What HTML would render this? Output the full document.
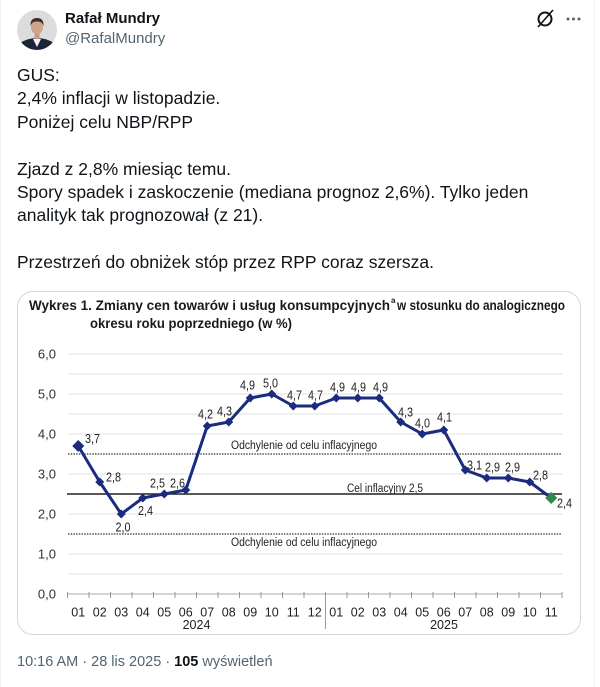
<!DOCTYPE html>
<html>
<head>
<meta charset="utf-8">
<style>
html,body{margin:0;padding:0;background:#fff;}
body{width:600px;height:687px;position:relative;overflow:hidden;font-family:"Liberation Sans",Arial,sans-serif;}
.vl{position:absolute;top:0;bottom:0;width:1px;background:#eff3f4;}
.name{position:absolute;left:65px;top:10px;font-size:15px;font-weight:bold;color:#0f1419;line-height:18px;}
.handle{position:absolute;left:65px;top:30px;font-size:15px;color:#536471;line-height:18px;}
.txt{position:absolute;left:17px;top:64px;font-size:17.5px;line-height:23.4px;color:#0f1419;white-space:pre;}
.ts{position:absolute;left:17px;top:653px;font-size:14.5px;line-height:18px;color:#536471;white-space:pre;}
.ts b{color:#0f1419;}
.card{position:absolute;left:17px;top:291px;width:564px;height:344px;border:1px solid #cfd9de;border-radius:16px;box-sizing:border-box;}
svg.chart{position:absolute;left:0;top:0;}
</style>
</head>
<body>
<div class="vl" style="left:0"></div>
<div class="vl" style="left:594px"></div>

<svg width="60" height="60" style="position:absolute;left:0;top:0">
  <defs><clipPath id="av"><circle cx="37" cy="30" r="20"/></clipPath></defs>
  <g clip-path="url(#av)">
    <rect x="17" y="10" width="40" height="40" fill="#dcdcdc"/>
    <path d="M17 50 L20 43 Q28 38 37 38 Q46 38 54 43 L57 50 Z" fill="#1e2438"/>
    <path d="M33 39 L37 47 L41 39 Z" fill="#f2f2f2"/>
    <rect x="34.5" y="33" width="5" height="6" fill="#c49a83"/>
    <ellipse cx="37" cy="27" rx="6" ry="7.5" fill="#cfa48c"/>
    <path d="M30.5 26 Q30 18 37 18 Q44 18 43.5 26 Q42 21 37 21.5 Q32 21 30.5 26 Z" fill="#3b2f29"/>
  </g>
</svg>

<div class="name">Rafał Mundry</div>
<div class="handle">@RafalMundry</div>

<svg width="60" height="30" style="position:absolute;left:530px;top:4px">
  <circle cx="15" cy="15" r="6.5" fill="none" stroke="#0f1419" stroke-width="2"/>
  <line x1="8" y1="23" x2="23" y2="6" stroke="#0f1419" stroke-width="1.6"/>
  <circle cx="38" cy="15" r="1.5" fill="#536471"/>
  <circle cx="43.5" cy="15" r="1.5" fill="#536471"/>
  <circle cx="49" cy="15" r="1.5" fill="#536471"/>
</svg>

<div class="txt">GUS:
2,4% inflacji w listopadzie.
Poniżej celu NBP/RPP

Zjazd z 2,8% miesiąc temu.
Spory spadek i zaskoczenie (mediana prognoz 2,6%). Tylko jeden
analityk tak prognozował (z 21).

Przestrzeń do obniżek stóp przez RPP coraz szersza.</div>

<div class="card"></div>

<svg class="chart" width="600" height="687" font-family="Liberation Sans, Arial, sans-serif">
  <!-- title -->
  <g font-weight="bold" font-size="14" fill="#1a1a1a">
    <text x="29" y="310" textLength="361" lengthAdjust="spacingAndGlyphs">Wykres 1. Zmiany cen towarów i usług konsumpcyjnych</text>
    <text x="391" y="303" font-size="8">a</text>
    <text x="397" y="310" textLength="168" lengthAdjust="spacingAndGlyphs">w stosunku do analogicznego</text>
    <text x="90" y="328" textLength="202" lengthAdjust="spacingAndGlyphs">okresu roku poprzedniego (w %)</text>
  </g>

  <!-- gridlines -->
  <g stroke="#e6e6e6" stroke-width="1.3">
    <line x1="68" y1="354" x2="562" y2="354"/>
    <line x1="68" y1="374" x2="562" y2="374"/>
    <line x1="68" y1="394" x2="562" y2="394"/>
    <line x1="68" y1="414" x2="562" y2="414"/>
    <line x1="68" y1="434" x2="562" y2="434"/>
    <line x1="68" y1="474" x2="562" y2="474"/>
    <line x1="68" y1="514" x2="562" y2="514"/>
    <line x1="68" y1="554" x2="562" y2="554"/>
    <line x1="68" y1="574" x2="562" y2="574"/>
  </g>
  <g stroke="#555" stroke-width="1.5" stroke-dasharray="1.5 1.2">
    <line x1="68" y1="454" x2="562" y2="454"/>
    <line x1="68" y1="534" x2="562" y2="534"/>
  </g>
  <line x1="67" y1="494" x2="562" y2="494" stroke="#222" stroke-width="1.5"/>

  <!-- axis -->
  <line x1="67.5" y1="594" x2="562.5" y2="594" stroke="#bbb" stroke-width="1.2"/>
  <g stroke="#999" stroke-width="1">
    <line x1="67.5" y1="592" x2="67.5" y2="598"/><line x1="89" y1="592" x2="89" y2="598"/><line x1="110.5" y1="592" x2="110.5" y2="598"/><line x1="132" y1="592" x2="132" y2="598"/><line x1="153.5" y1="592" x2="153.5" y2="598"/><line x1="175" y1="592" x2="175" y2="598"/><line x1="196.5" y1="592" x2="196.5" y2="598"/><line x1="218" y1="592" x2="218" y2="598"/><line x1="239.5" y1="592" x2="239.5" y2="598"/><line x1="261" y1="592" x2="261" y2="598"/><line x1="282.5" y1="592" x2="282.5" y2="598"/><line x1="304" y1="592" x2="304" y2="598"/><line x1="347" y1="592" x2="347" y2="598"/><line x1="368.5" y1="592" x2="368.5" y2="598"/><line x1="390" y1="592" x2="390" y2="598"/><line x1="411.5" y1="592" x2="411.5" y2="598"/><line x1="433" y1="592" x2="433" y2="598"/><line x1="454.5" y1="592" x2="454.5" y2="598"/><line x1="476" y1="592" x2="476" y2="598"/><line x1="497.5" y1="592" x2="497.5" y2="598"/><line x1="519" y1="592" x2="519" y2="598"/><line x1="540.5" y1="592" x2="540.5" y2="598"/><line x1="562" y1="592" x2="562" y2="598"/>
    <line x1="325.5" y1="592" x2="325.5" y2="629"/>
  </g>

  <!-- y labels -->
  <g font-size="13" fill="#333" text-anchor="end">
    <text x="56" y="358.5">6,0</text>
    <text x="56" y="398.5">5,0</text>
    <text x="56" y="438.5">4,0</text>
    <text x="56" y="478.5">3,0</text>
    <text x="56" y="518.5">2,0</text>
    <text x="56" y="558.5">1,0</text>
    <text x="56" y="598.5">0,0</text>
  </g>

  <!-- month labels -->
  <g font-size="12.5" fill="#222" text-anchor="middle">
    <text x="78.25" y="616.5">01</text><text x="99.75" y="616.5">02</text><text x="121.25" y="616.5">03</text><text x="142.75" y="616.5">04</text><text x="164.25" y="616.5">05</text><text x="185.75" y="616.5">06</text><text x="207.25" y="616.5">07</text><text x="228.75" y="616.5">08</text><text x="250.25" y="616.5">09</text><text x="271.75" y="616.5">10</text><text x="293.25" y="616.5">11</text><text x="314.75" y="616.5">12</text>
    <text x="336.25" y="616.5">01</text><text x="357.75" y="616.5">02</text><text x="379.25" y="616.5">03</text><text x="400.75" y="616.5">04</text><text x="422.25" y="616.5">05</text><text x="443.75" y="616.5">06</text><text x="465.25" y="616.5">07</text><text x="486.75" y="616.5">08</text><text x="508.25" y="616.5">09</text><text x="529.75" y="616.5">10</text><text x="551.25" y="616.5">11</text>
    <text x="196.5" y="629">2024</text>
    <text x="444" y="629">2025</text>
  </g>

  <!-- annotations -->
  <g font-size="11.5" fill="#222">
    <text x="231" y="449" textLength="146" lengthAdjust="spacingAndGlyphs">Odchylenie od celu inflacyjnego</text>
    <text x="231" y="546" textLength="146" lengthAdjust="spacingAndGlyphs">Odchylenie od celu inflacyjnego</text>
    <text x="347" y="492" textLength="76" lengthAdjust="spacingAndGlyphs">Cel inflacyjny 2,5</text>
  </g>

  <!-- series -->
  <polyline fill="none" stroke="#1b2b7e" stroke-width="3" stroke-linejoin="round"
    points="78.25,446 99.75,482 121.25,514 142.75,498 164.25,494 185.75,490 207.25,426 228.75,422 250.25,398 271.75,394 293.25,406 314.75,406 336.25,398 357.75,398 379.25,398 400.75,422 422.25,434 443.75,430 465.25,470 486.75,478 508.25,478 529.75,482 551.25,498"/>
  <g fill="#1b2b7e">
    <path d="M78.25 440 L84.25 446 L78.25 452 L72.25 446 Z"/>
    <path d="M99.75 477.5 L104.25 482 L99.75 486.5 L95.25 482 Z"/>
    <path d="M121.25 509.5 L125.75 514 L121.25 518.5 L116.75 514 Z"/>
    <path d="M142.75 493.5 L147.25 498 L142.75 502.5 L138.25 498 Z"/>
    <path d="M164.25 489.5 L168.75 494 L164.25 498.5 L159.75 494 Z"/>
    <path d="M185.75 485.5 L190.25 490 L185.75 494.5 L181.25 490 Z"/>
    <path d="M207.25 421.5 L211.75 426 L207.25 430.5 L202.75 426 Z"/>
    <path d="M228.75 417.5 L233.25 422 L228.75 426.5 L224.25 422 Z"/>
    <path d="M250.25 393.5 L254.75 398 L250.25 402.5 L245.75 398 Z"/>
    <path d="M271.75 389.5 L276.25 394 L271.75 398.5 L267.25 394 Z"/>
    <path d="M293.25 401.5 L297.75 406 L293.25 410.5 L288.75 406 Z"/>
    <path d="M314.75 401.5 L319.25 406 L314.75 410.5 L310.25 406 Z"/>
    <path d="M336.25 393.5 L340.75 398 L336.25 402.5 L331.75 398 Z"/>
    <path d="M357.75 393.5 L362.25 398 L357.75 402.5 L353.25 398 Z"/>
    <path d="M379.25 393.5 L383.75 398 L379.25 402.5 L374.75 398 Z"/>
    <path d="M400.75 417.5 L405.25 422 L400.75 426.5 L396.25 422 Z"/>
    <path d="M422.25 429.5 L426.75 434 L422.25 438.5 L417.75 434 Z"/>
    <path d="M443.75 425.5 L448.25 430 L443.75 434.5 L439.25 430 Z"/>
    <path d="M465.25 465.5 L469.75 470 L465.25 474.5 L460.75 470 Z"/>
    <path d="M486.75 473.5 L491.25 478 L486.75 482.5 L482.25 478 Z"/>
    <path d="M508.25 473.5 L512.75 478 L508.25 482.5 L503.75 478 Z"/>
    <path d="M529.75 477.5 L534.25 482 L529.75 486.5 L525.25 482 Z"/>
  </g>
  <path d="M551.25 492 L557.25 498 L551.25 504 L545.25 498 Z" fill="#2f8a44"/>

  <!-- data labels -->
  <g font-size="12.5" fill="#222">
    <text x="85" y="443" textLength="15" lengthAdjust="spacingAndGlyphs">3,7</text>
    <text x="106" y="481.5" textLength="15" lengthAdjust="spacingAndGlyphs">2,8</text>
    <text x="115.5" y="531.5" textLength="15" lengthAdjust="spacingAndGlyphs">2,0</text>
    <text x="138" y="515" textLength="15" lengthAdjust="spacingAndGlyphs">2,4</text>
    <text x="150" y="487.5" textLength="15" lengthAdjust="spacingAndGlyphs">2,5</text>
    <text x="170" y="487.5" textLength="15" lengthAdjust="spacingAndGlyphs">2,6</text>
    <text x="198" y="418.5" textLength="15" lengthAdjust="spacingAndGlyphs">4,2</text>
    <text x="217" y="415.5" textLength="15" lengthAdjust="spacingAndGlyphs">4,3</text>
    <text x="240" y="389.5" textLength="15" lengthAdjust="spacingAndGlyphs">4,9</text>
    <text x="263" y="387.5" textLength="15" lengthAdjust="spacingAndGlyphs">5,0</text>
    <text x="287" y="399.5" textLength="15" lengthAdjust="spacingAndGlyphs">4,7</text>
    <text x="308" y="399.5" textLength="15" lengthAdjust="spacingAndGlyphs">4,7</text>
    <text x="330" y="391.5" textLength="15" lengthAdjust="spacingAndGlyphs">4,9</text>
    <text x="351" y="391.5" textLength="15" lengthAdjust="spacingAndGlyphs">4,9</text>
    <text x="373" y="391.5" textLength="15" lengthAdjust="spacingAndGlyphs">4,9</text>
    <text x="398" y="416.5" textLength="15" lengthAdjust="spacingAndGlyphs">4,3</text>
    <text x="415" y="427.5" textLength="15" lengthAdjust="spacingAndGlyphs">4,0</text>
    <text x="437" y="421.5" textLength="15" lengthAdjust="spacingAndGlyphs">4,1</text>
    <text x="467" y="469.5" textLength="15" lengthAdjust="spacingAndGlyphs">3,1</text>
    <text x="485" y="471.5" textLength="15" lengthAdjust="spacingAndGlyphs">2,9</text>
    <text x="505" y="471.5" textLength="15" lengthAdjust="spacingAndGlyphs">2,9</text>
    <text x="533" y="479.5" textLength="15" lengthAdjust="spacingAndGlyphs">2,8</text>
    <text x="557" y="507.5" textLength="15" lengthAdjust="spacingAndGlyphs">2,4</text>
  </g>
</svg>

<div class="ts">10:16 AM · 28 lis 2025 · <b>105</b> wyświetleń</div>
</body>
</html>
